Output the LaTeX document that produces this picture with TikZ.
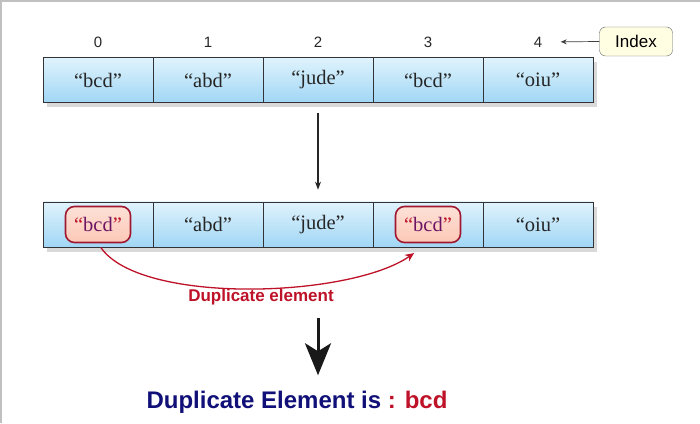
\documentclass[tikz,border=0pt]{standalone}
\usepackage{fontspec}
\setmainfont{Liberation Serif}
\setsansfont{Liberation Sans}
\usetikzlibrary{arrows.meta,shadows}
\definecolor{Frame}{RGB}{192,192,192}
\definecolor{Cellline}{RGB}{50,50,55}
\definecolor{Celltop}{RGB}{224,243,252}
\definecolor{Cellbot}{RGB}{160,214,245}
\definecolor{Dup}{RGB}{160,24,48}
\definecolor{Dupfill}{RGB}{252,200,182}
\definecolor{Dupword}{RGB}{110,20,100}
\definecolor{Dupred}{RGB}{190,18,40}
\definecolor{Navy}{RGB}{16,16,120}
\definecolor{Note}{RGB}{255,253,226}
\def\Cellw{110}
\def\Cellh{45}
\def\Xstart{98}
\def\Ytop{343}
\def\Ybot{198.5}
\def\Ydigit{381}

\begin{document}
\begin{tikzpicture}[x=1pt,y=1pt,
    cell/.style={draw=Cellline,line width=0.7pt,minimum width=\Cellw pt,minimum height=\Cellh pt,inner sep=0pt,
        top color=Celltop,bottom color=Cellbot,font=\fontsize{20.5}{22}\selectfont,text=black!85,
        drop shadow={shadow xshift=4pt,shadow yshift=-5pt,opacity=0.3}},
    digit/.style={font=\sffamily\fontsize{15}{17}\selectfont,text=black!85},
    dup/.style={draw=Dup,line width=1.6pt,rounded corners=9pt,minimum width=65pt,minimum height=36pt,inner sep=0pt,
        top color=Dupfill!55!white,bottom color=Dupfill,font=\fontsize{20.5}{22}\selectfont,text=Dupword},
    note/.style={draw=black!60,rounded corners=6pt,fill=Note,minimum width=73pt,minimum height=29pt,inner sep=0pt,
        font=\sffamily\fontsize{17}{19}\selectfont}]
    \path[use as bounding box] (0,0) rectangle (700,423);
    \draw[Frame,line width=2pt] (1,0) -- (1,422) -- (700,422);
    \foreach \W/\D [count=\i from 0] in {bcd/0,abd/0,jude/0,bcd/1,oiu/0} {
        \node[cell] (T\i) at ({\Xstart+\i*\Cellw},\Ytop) {“\W”};
        \node[digit] (I\i) at ({\Xstart+\i*\Cellw},\Ydigit) {\i};
    }
    \foreach \W/\D [count=\i from 0] in {bcd/1,abd/0,jude/0,bcd/1,oiu/0} {
        \ifnum\D=1
            \node[cell] (B\i) at ({\Xstart+\i*\Cellw},\Ybot) {};
            \node[dup] (D\i) at (B\i) {\textcolor{Dupred}{“}\W\textcolor{Dupred}{”}};
        \else
            \node[cell] (B\i) at ({\Xstart+\i*\Cellw},\Ybot) {“\W”};
        \fi
    }
    \node[note] (idx) at (636,381.5) {Index};
    \draw[black!75,line width=0.7pt,-{Stealth[length=6pt,width=5pt]},shorten >=15pt] (idx.west) -- (I4.east);
    \draw[black!85,line width=1.1pt,-{Stealth[length=8pt,width=6pt]},shorten <=10pt,shorten >=12pt] (T2.south) -- (B2.north);
    \draw[Dupred,line width=1.3pt,-{Stealth[length=9pt,width=8pt,inset=3pt]},shorten <=5pt,shorten >=17pt]
        (D0.south) .. controls (140,118) and (350,125) .. (D3.south);
    \node[text=Dupred,font=\sffamily\bfseries\fontsize{17}{19}\selectfont] (dlab) at (261,126) {Duplicate element};
    \node[font=\sffamily\bfseries\fontsize{24}{27}\selectfont] (res) at (297,21)
        {\textcolor{Navy}{Duplicate Element is} \textcolor{Dupred}{: bcd}};
    \draw[black!90,line width=3pt,-{Stealth[length=32pt,width=26pt,inset=8pt]},shorten <=10pt,shorten >=12pt]
        (B2 |- dlab.south) -- (B2 |- res.north);
\end{tikzpicture}
\end{document}
